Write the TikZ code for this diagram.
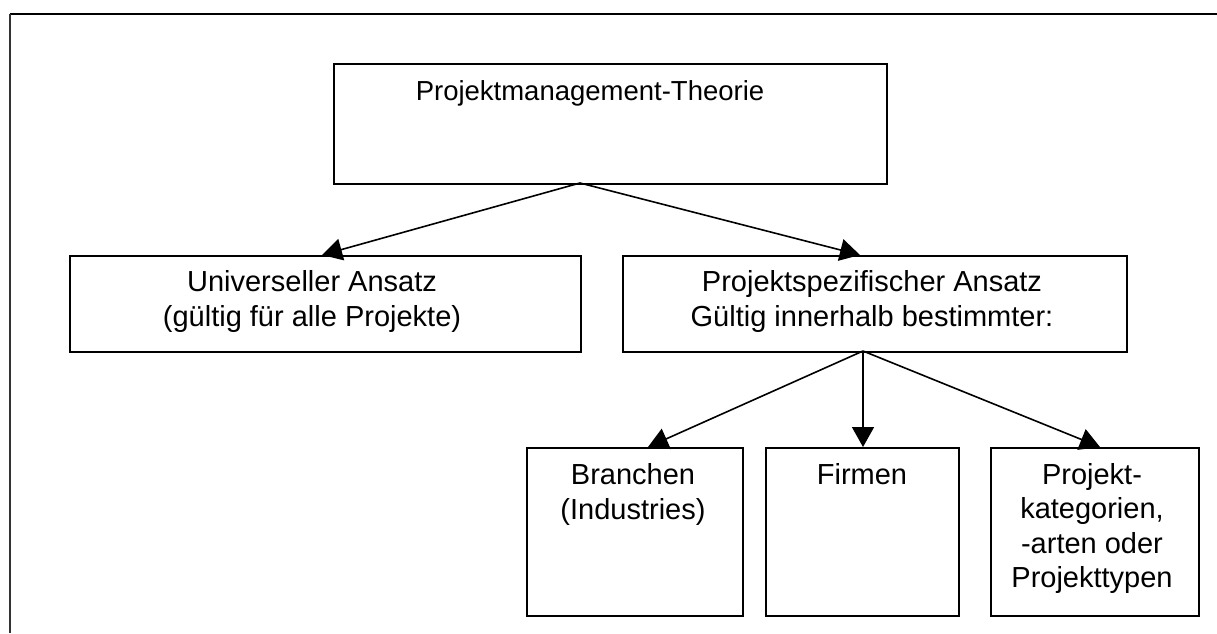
\documentclass[tikz,border=0pt]{standalone}
\usepackage{fontspec}
\setmainfont{Liberation Sans}
\usetikzlibrary{arrows.meta}
\begin{document}
\begin{tikzpicture}[x=1pt,y=-1pt,
  box/.style={draw=black,line width=1.8pt,inner sep=0pt,anchor=north west},
  txt/.style={align=center,inner sep=0pt,font=\fontsize{29}{34.5}\selectfont},
  ttl/.style={align=center,inner sep=0pt,font=\fontsize{27.5}{34.5}\selectfont},
  conn/.style={draw=black,line width=1.6pt,-{Triangle[length=20pt,width=22pt]}}]
\useasboundingbox (0,0) rectangle (1217,633);
% page frame (top and left)
\draw[line width=2.5pt,black] (10,14) -- (1217,14);
\draw[line width=2pt,black!80] (10,14) -- (10,633);
% boxes
\node[box,minimum width=553pt,minimum height=120pt] (top) at (333,63) {};
\node[box,minimum width=511pt,minimum height=96pt] (uni) at (69,255) {};
\node[box,minimum width=504pt,minimum height=96pt] (spez) at (622,255) {};
\node[box,minimum width=216pt,minimum height=168pt] (bra) at (526,447) {};
\node[box,minimum width=193pt,minimum height=168pt] (fir) at (765,447) {};
\node[box,minimum width=208pt,minimum height=168pt] (kat) at (990,447) {};
% texts (anchor=base is the baseline of the last line)
\node[ttl,anchor=base] (ttop) at (590,100) {Projektmanagement-Theorie};
\node[txt,anchor=base] (tuni) at (312,326) {Universeller Ansatz\\(gültig für alle Projekte)};
\node[txt,anchor=base] (tspez) at (872,326) {Projektspezifischer Ansatz\\Gültig innerhalb bestimmter:};
\node[txt,anchor=base] (tbra) at (633,519) {Branchen\\(Industries)};
\node[txt,anchor=base] (tfir) at (862,484) {Firmen};
\node[txt,anchor=base] (tkat) at (1092,587.5) {Projekt-\\kategorien,\\-arten oder\\Projekttypen};
% connector points
\coordinate (topOut) at (580,183);
\coordinate (uniIn) at (322,255);
\coordinate (spezIn) at (860,255);
\coordinate (spezOut) at (863,351);
\coordinate (braIn) at (648,447);
\coordinate (firIn) at (863,447);
\coordinate (katIn) at (1100,447);
\draw[conn] (topOut) -- (uniIn);
\draw[conn] (topOut) -- (spezIn);
\draw[conn] (spezOut) -- (braIn);
\draw[conn] (spezOut) -- (firIn);
\draw[conn] (spezOut) -- (katIn);
\end{tikzpicture}
\end{document}
